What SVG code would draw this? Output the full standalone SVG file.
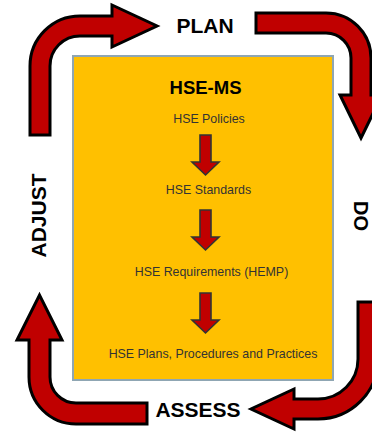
<svg xmlns="http://www.w3.org/2000/svg" width="372" height="432" viewBox="0 0 372 432">
<style>
.big{fill:#C00000;stroke:#000;stroke-width:3;stroke-linejoin:miter}
.small{fill:#C00000;stroke:#333;stroke-width:1.6}
.lbl{font-family:"Liberation Sans",Arial,sans-serif;font-weight:bold;font-size:21px;fill:#000;text-anchor:middle}
.t{font-family:"Liberation Sans",Arial,sans-serif;font-size:12.4px;fill:#333;text-anchor:middle}
</style>
<rect width="372" height="432" fill="#fff"/>
<g id="hse-ms">
<rect x="73" y="56" width="260" height="324" fill="#FFC000" stroke="#8FA6B3" stroke-width="2"/>
<text x="205.5" y="94" font-family="Liberation Sans, Arial, sans-serif" font-weight="bold" font-size="18.5" fill="#000" text-anchor="middle">HSE-MS</text>
</g>
<g id="policies"><text class="t" x="209" y="123">HSE Policies</text></g>
<g id="standards"><text class="t" x="208.5" y="194">HSE Standards</text></g>
<g id="requirements"><text class="t" x="211.5" y="276">HSE Requirements (HEMP)</text></g>
<g id="plans"><text class="t" x="213" y="358">HSE Plans, Procedures and Practices</text></g>
<g id="plan-label"><text class="lbl" x="205" y="33">PLAN</text></g>
<g id="do-label"><text class="lbl" font-size="20" style="font-size:20px" transform="translate(354,216) rotate(90)">DO</text></g>
<g id="assess-label"><text class="lbl" x="198" y="417">ASSESS</text></g>
<g id="adjust-label"><text class="lbl" transform="translate(46,215.5) rotate(-90)">ADJUST</text></g>
<g id="connectors">
<path class="big" d="M30,135 L30,66 A50,50 0 0 1 80,16 L112,16 L112,5 L157,26 L112,47 L112,36 L80,36 A30,30 0 0 0 50,66 L50,135 Z"/>
<path class="big" d="M256,13 L326,13 A45,45 0 0 1 371,58 L371,95 L382,95 L361,138 L340,95 L351,95 L351,58 A25,25 0 0 0 326,33 L256,33 Z"/>
<path class="big" d="M358,302 L358,359 A40,40 0 0 1 318,399 L294,399 L294,389 L251,409 L294,429 L294,419 L318,419 A60,60 0 0 0 378,359 L378,302 Z"/>
<path class="big" d="M147,403 L76,403 A26,26 0 0 1 50,377 L50,340 L62,340 L39.5,295 L17,340 L29,340 L29,377 A47,47 0 0 0 76,424 L147,424 Z"/>
<path class="small" d="M200,135 L211,135 L211,162 L219,162 L205.5,175 L192,162 L200,162 Z"/>
<path class="small" d="M200,210 L211,210 L211,237 L219,237 L205.5,250 L192,237 L200,237 Z"/>
<path class="small" d="M200,293 L211,293 L211,320 L219,320 L205.5,333 L192,320 L200,320 Z"/>
</g>
</svg>
